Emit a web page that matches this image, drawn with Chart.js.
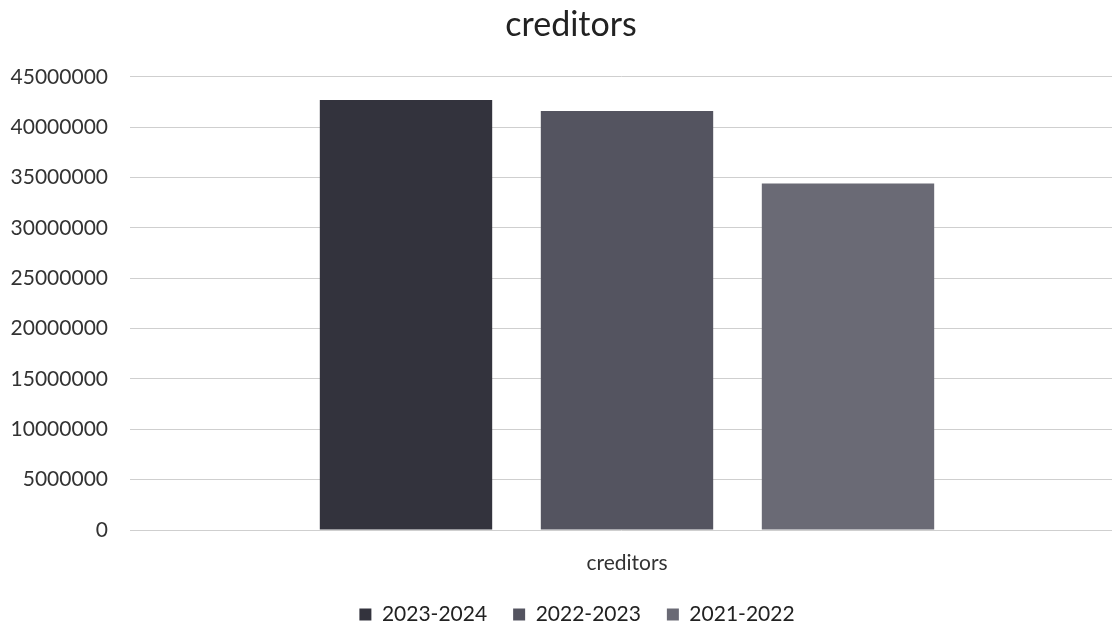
<!DOCTYPE html>
<html>
<head>
<meta charset="utf-8">
<script src="https://cdn.jsdelivr.net/npm/chart.js@4"></script>
<style>
  html, body { margin: 0; padding: 0; background: #ffffff; }
  #wrap { width: 1112px; height: 627px; }
</style>
</head>
<body>
<div id="wrap"><canvas id="c" width="1112" height="627"></canvas></div>
<script>
const categories = ["creditors"];
const seriesNames = ["2023-2024", "2022-2023", "2021-2022"];
const values2324 = [42700000];
const values2223 = [41600000];
const values2122 = [34400000];
const yTicks = [0, 5000000, 10000000, 15000000, 20000000, 25000000, 30000000, 35000000, 40000000, 45000000];
const colors = ["#33333d", "#545460", "#6a6a75"];

const FONT = "Lato, 'Open Sans', sans-serif";

const shiftBlocks = {
  id: 'shiftBlocks',
  afterLayout(chart) {
    if (chart.titleBlock) { chart.titleBlock.left += 15; chart.titleBlock.right += 15; }
    if (chart.legend) { chart.legend.left += 21; chart.legend.right += 21; }
    const ext = 12;
    chart.chartArea.right += ext;
    chart.chartArea.width += ext;
    const xs = chart.scales.x;
    xs.right += ext;
    xs.width += ext;
    xs.configure();
  }
};

new Chart(document.getElementById('c'), {
  type: 'bar',
  data: {
    labels: categories,
    datasets: [
      { label: seriesNames[0], data: values2324, backgroundColor: colors[0] },
      { label: seriesNames[1], data: values2223, backgroundColor: colors[1] },
      { label: seriesNames[2], data: values2122, backgroundColor: colors[2] }
    ]
  },
  plugins: [shiftBlocks],
  options: {
    responsive: false,
    animation: false,
    devicePixelRatio: 1,
    layout: { padding: { left: 0, right: 0, top: 0, bottom: -8 } },
    datasets: { bar: { categoryPercentage: 0.667, barPercentage: 0.78 } },
    plugins: {
      title: {
        display: true,
        text: 'creditors',
        color: '#222',
        font: { family: FONT, size: 34, weight: 'normal' },
        padding: { top: 5, bottom: 31 }
      },
      legend: {
        position: 'bottom',
        labels: {
          color: '#222',
          font: { family: FONT, size: 21 },
          boxWidth: 12, boxHeight: 12,
          padding: 26
        }
      },
      tooltip: { enabled: false }
    },
    scales: {
      y: {
        min: yTicks[0],
        max: yTicks[yTicks.length - 1],
        afterBuildTicks: (axis) => { axis.ticks = yTicks.map(v => ({ value: v })); },
        afterFit: (axis) => { axis.width = 130; },
        ticks: {
          color: '#333',
          font: { family: FONT, size: 21 },
          padding: 22,
          callback: (v) => String(v)
        },
        grid: { color: '#cfcfcf', lineWidth: 1, drawTicks: false },
        border: { display: false }
      },
      x: {
        afterFit: (axis) => { axis.height = 48; },
        ticks: {
          color: '#333',
          font: { family: FONT, size: 21 },
          padding: 21
        },
        grid: { display: false, drawTicks: false },
        border: { display: false }
      }
    }
  }
});
</script>
</body>
</html>
